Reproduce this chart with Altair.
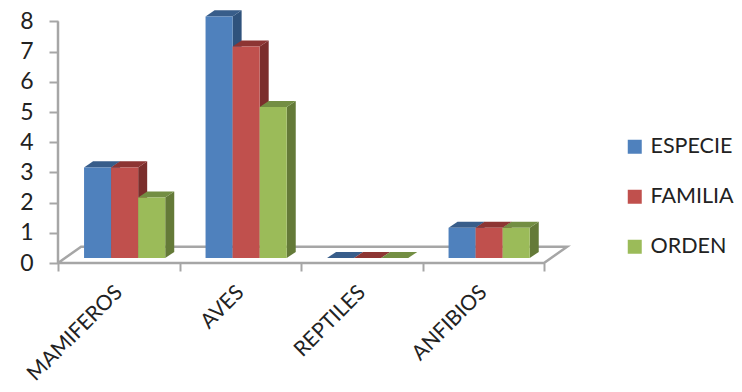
import json
import altair as alt
import pandas as pd

categories = ["MAMIFEROS", "AVES", "REPTILES", "ANFIBIOS"]
series = ["ESPECIE", "FAMILIA", "ORDEN"]
especie = [3, 8, 0, 1]
familia = [3, 7, 0, 1]
orden = [2, 5, 0, 1]
values = [especie, familia, orden]

front_colors = ["#4F81BD", "#C0504D", "#9BBB59"]
side_colors = ["#2F527C", "#7B2E2C", "#647A38"]
top_colors = ["#385D8A", "#8D3533", "#738E43"]
GRAY = "#A6A6A6"

# Pseudo-3D projection, in data units
GAP, BAR_W = 0.2144, 0.2227
DX, DY, LIFT = 0.0742, 0.2, 0.166
FLOOR_DX, FLOOR_DY = 0.19, 0.54

front, side, top = [], [], []
for s, name in enumerate(series):
    for c, cat in enumerate(categories):
        v = values[s][c]
        xl = c + GAP + s * BAR_W
        xr = xl + BAR_W
        b, t = LIFT, LIFT + v
        key = f"{c}-{s}"
        front.append(dict(series=name, x=xl, x2=xr, y=b, y2=t))
        side += [
            dict(series=name, key=key, x=xr, y=b, y2=t),
            dict(series=name, key=key, x=xr + DX, y=b + DY, y2=t + DY),
        ]
        top += [
            dict(series=name, key=key, x=xl, y=t, y2=t),
            dict(series=name, key=key, x=xl + DX, y=t + DY, y2=t),
            dict(series=name, key=key, x=xr, y=t + DY, y2=t),
            dict(series=name, key=key, x=xr + DX, y=t + DY, y2=t + DY),
        ]

n = len(categories)
floor = pd.DataFrame({
    "x": [0, FLOOR_DX, n + FLOOR_DX, n, 0],
    "y": [0, FLOOR_DY, FLOOR_DY, 0, 0],
    "o": [0, 1, 2, 3, 4],
})

X = alt.Scale(domain=[0, 514 / 121.5], nice=False, zero=False)
Y = alt.Scale(domain=[0, 253 / 30.2], nice=False, zero=False)
FONT = "Lato"

x_ticks = alt.Axis(orient="bottom", values=list(range(n + 1)), labels=False, domain=False, grid=False,
                   tickColor=GRAY, tickWidth=2, tickSize=8, title=None)
x_labels = alt.Axis(orient="bottom", values=[i + 0.5 for i in range(n)], domain=False, grid=False, ticks=False,
                    labelExpr=f"{json.dumps(categories)}[floor(datum.value)]",
                    labelAngle=315, labelAlign="right", labelBaseline="middle",
                    labelFont=FONT, labelFontSize=21, labelColor="#222222",
                    labelPadding=26, labelOverlap=False, title=None)
y_axis = alt.Axis(orient="left", values=list(range(9)), domain=False, grid=False, tickColor=GRAY, tickWidth=2,
                  tickSize=9, labelFont=FONT, labelFontSize=23, labelColor="#222222",
                  labelPadding=16, title=None)

floor_layer = alt.Chart(floor).mark_line(color=GRAY, strokeWidth=2.5).encode(
    x=alt.X("x:Q", scale=X, axis=x_ticks),
    y=alt.Y("y:Q", scale=Y, axis=y_axis),
    order="o:Q",
)
wall = alt.Chart(pd.DataFrame({"x": [0], "y": [0], "y2": [8]})).mark_rule(color=GRAY, strokeWidth=2.5).encode(
    x=alt.X("x:Q", scale=X, axis=None),
    y=alt.Y("y:Q", scale=Y, axis=None),
    y2="y2:Q",
)
label_layer = alt.Chart(pd.DataFrame({"x": [i + 0.5 for i in range(n)]})).mark_point(opacity=0).encode(
    x=alt.X("x:Q", scale=X, axis=x_labels),
)


def faces(rows, colors):
    return alt.Chart(pd.DataFrame(rows)).mark_area(orient="vertical", interpolate="linear").encode(
        x=alt.X("x:Q", scale=X, axis=None),
        y=alt.Y("y:Q", scale=Y, axis=None, stack=None),
        y2="y2:Q",
        detail="key:N",
        color=alt.Color("series:N", scale=alt.Scale(domain=series, range=colors), legend=None),
    )


front_layer = alt.Chart(pd.DataFrame(front)).mark_rect().encode(
    x=alt.X("x:Q", scale=X, axis=None),
    x2="x2:Q",
    y=alt.Y("y:Q", scale=Y, axis=None),
    y2="y2:Q",
    color=alt.Color(
        "series:N",
        scale=alt.Scale(domain=series, range=front_colors),
        legend=alt.Legend(
            title=None, orient="none", legendX=566, legendY=126, symbolType="square",
            symbolSize=196, symbolStrokeWidth=0, symbolOpacity=1, labelFont=FONT,
            labelFontSize=21.5, labelColor="#222222", labelOffset=5, rowPadding=27, padding=0,
        ),
    ),
)

chart = (
    alt.layer(floor_layer, wall, label_layer, faces(side, side_colors), faces(top, top_colors), front_layer)
    .resolve_scale(color="independent")
    .resolve_axis(x="independent", y="independent")
    .properties(
        width=514,
        height=253,
        autosize=alt.AutoSizeParams(type="none"),
        padding={"left": 50, "top": 2, "right": 162, "bottom": 121},
    )
    .configure_view(stroke=None)
)

chart.save("out.html", embed_options={"renderer": "svg", "actions": False})
